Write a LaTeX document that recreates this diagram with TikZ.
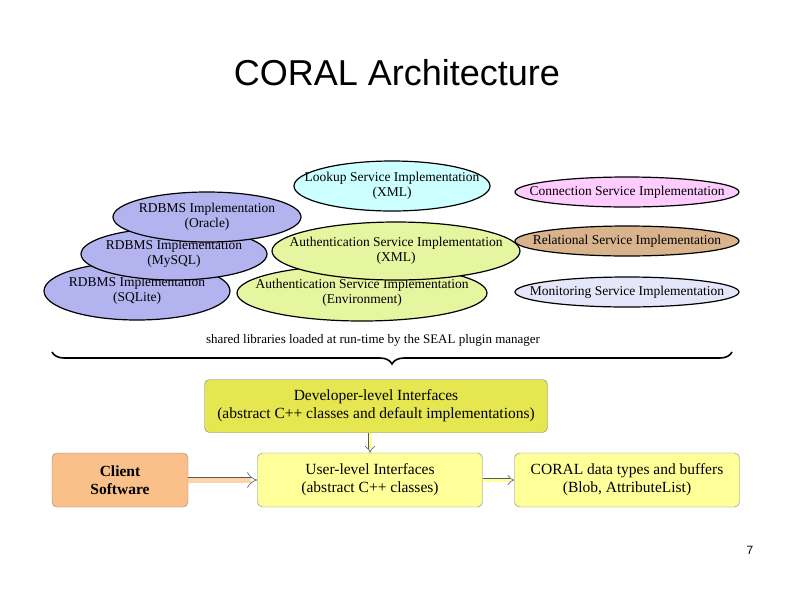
\documentclass[tikz,border=0pt]{standalone}
\usepackage{fontspec}
\setmainfont{Liberation Serif}
\newfontfamily\titlefont{Liberation Sans}
\usetikzlibrary{shapes.geometric,arrows.meta,decorations.pathreplacing}
\definecolor{lookupc}{HTML}{CCFFFF}
\definecolor{connc}{HTML}{FFCCFF}
\definecolor{relc}{HTML}{D9B38C}
\definecolor{monc}{HTML}{E6E6FA}
\definecolor{rdbmsc}{HTML}{B3B3F0}
\definecolor{authc}{HTML}{E6F5A0}
\definecolor{devc}{HTML}{E6E650}
\definecolor{userc}{HTML}{FFFF99}
\definecolor{clientc}{HTML}{F9C08A}
\begin{document}
\begin{tikzpicture}[x=1pt,y=-1pt]
  \tikzstyle{plugin}=[ellipse, draw, line width=1.2pt, inner xsep=-34pt, inner ysep=-2pt, align=center, font=\fontsize{13.5}{15}\selectfont]
  \tikzstyle{layer}=[rectangle, rounded corners=5pt, draw=gray, inner sep=0pt, align=center, font=\fontsize{15.5}{18}\selectfont]
  \tikzstyle{flow}=[draw=gray!70!black, double=userc, double distance=3pt, line width=0.6pt, -{Implies}]
  \useasboundingbox (0,0) rectangle (794,595);

  \node[font=\titlefont\fontsize{36}{40}\selectfont] (title) at (397,73) {CORAL Architecture};

  \node[plugin, fill=lookupc, minimum width=196pt, minimum height=50pt] (lookup) at (392,186) {Lookup Service Implementation\\(XML)};
  \node[plugin, fill=connc, minimum width=224pt, minimum height=30pt] (conn) at (627,192) {Connection Service Implementation};
  \node[plugin, fill=relc, minimum width=224pt, minimum height=30pt] (rel) at (627,241) {Relational Service Implementation};
  \node[plugin, fill=monc, minimum width=224pt, minimum height=30pt] (mon) at (627,292) {Monitoring Service Implementation};

  \node[plugin, fill=rdbmsc, minimum width=186pt, minimum height=58pt] (sqlite) at (137,291) {RDBMS Implementation\\(SQLite)};
  \node[plugin, fill=rdbmsc, minimum width=186pt, minimum height=52pt] (mysql) at (174,254) {RDBMS Implementation\\(MySQL)};
  \node[plugin, fill=rdbmsc, minimum width=188pt, minimum height=50pt] (oracle) at (207,217) {RDBMS Implementation\\(Oracle)};
  \node[plugin, fill=authc, minimum width=250pt, minimum height=56pt] (authenv) at (362,293) {Authentication Service Implementation\\(Environment)};
  \node[plugin, fill=authc, minimum width=248pt, minimum height=58pt] (authxml) at (396,251) {Authentication Service Implementation\\(XML)};

  \node[font=\fontsize{13}{14}\selectfont] (shared) at (373,340) {shared libraries loaded at run-time by the SEAL plugin manager};
  \coordinate (bl) at (52,352);
  \coordinate (br) at (732,352);
  \draw[line width=1.6pt, decorate, decoration={brace, mirror, amplitude=12pt, aspect=0.5}] (bl) -- (br);

  \node[layer, fill=devc, minimum width=343pt, minimum height=53pt] (dev) at (376,406) {Developer-level Interfaces\\(abstract C++ classes and default implementations)};
  \node[layer, fill=userc, minimum width=225pt, minimum height=54pt] (user) at (370,480) {User-level Interfaces\\(abstract C++ classes)};
  \node[layer, fill=clientc, minimum width=136pt, minimum height=54pt, font=\bfseries\fontsize{15.5}{18}\selectfont] (client) at (120,480) {Client\\Software};
  \node[layer, fill=userc, minimum width=225pt, minimum height=54pt] (data) at (627,480) {CORAL data types and buffers\\(Blob, AttributeList)};

  \draw[flow] (dev.south -| user) -- (user);
  \draw[flow, double=clientc!70!white, double distance=5pt] (client) -- (user);
  \draw[flow] (user) -- (data);

  \node[font=\titlefont\fontsize{12}{14}\selectfont] (page) at (750,550) {7};
\end{tikzpicture}
\end{document}
